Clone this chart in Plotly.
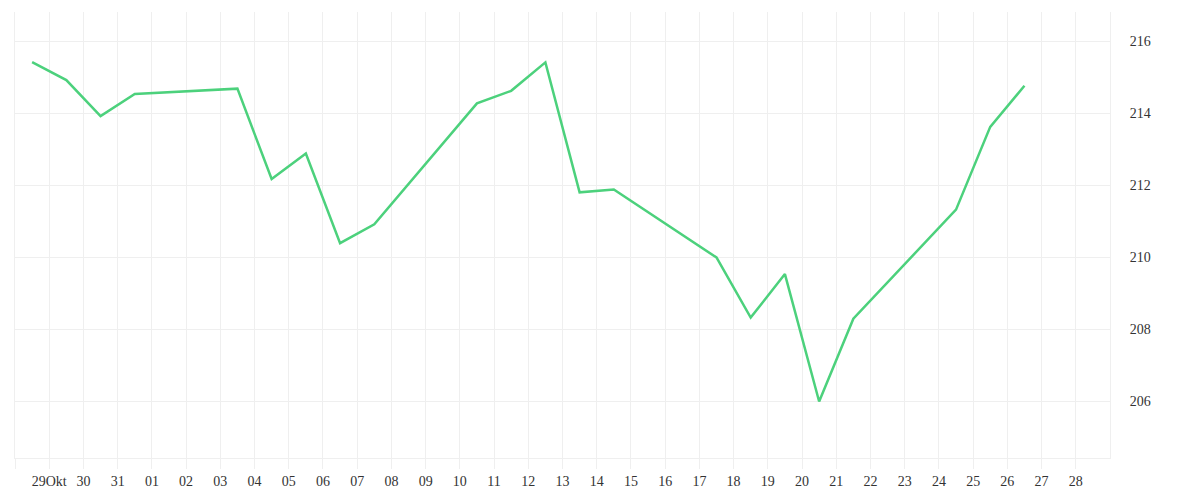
import pandas as pd
import plotly.graph_objects as go

# trading days (weekends missing) and closing values
dates = [
    "2025-10-28", "2025-10-29", "2025-10-30", "2025-10-31",
    "2025-11-03", "2025-11-04", "2025-11-05", "2025-11-06", "2025-11-07",
    "2025-11-10", "2025-11-11", "2025-11-12", "2025-11-13", "2025-11-14",
    "2025-11-17", "2025-11-18", "2025-11-19", "2025-11-20", "2025-11-21",
    "2025-11-24", "2025-11-25", "2025-11-26",
]
values = [
    215.43, 214.93, 213.93, 214.54,
    214.69, 212.18, 212.89, 210.40, 210.92,
    214.28, 214.63, 215.42, 211.81, 211.89,
    210.00, 208.33, 209.54, 206.00, 208.30,
    211.33, 213.63, 214.77,
]

tick_dates = pd.date_range("2025-10-28", "2025-11-28", freq="D")
tick_labels = [""] + ["29Okt", "30", "31"] + ["%02d" % d for d in range(1, 29)]

grid = "#efefef"
font = dict(family="Liberation Serif, DejaVu Serif, serif", size=14, color="#333333")

x = pd.to_datetime(dates) + pd.Timedelta(hours=12)

fig = go.Figure()
fig.add_trace(go.Scatter(
    x=x, y=values, mode="lines",
    line=dict(color="#4cd17c", width=2.5),
    hoverinfo="x+y",
))

# page body has an 8px margin, so the margins are shifted to compensate
fig.update_layout(
    width=1200, height=500,
    margin=dict(l=7, r=98, t=4, b=50),
    paper_bgcolor="white", plot_bgcolor="white",
    showlegend=False,
    font=font,
)
fig.update_xaxes(
    type="date",
    range=["2025-10-28", "2025-11-29"],
    tickmode="array", tickvals=tick_dates, ticktext=tick_labels,
    showgrid=True, gridcolor=grid, gridwidth=1,
    ticks="outside", ticklen=10, tickcolor=grid,
    showline=True, linecolor=grid, linewidth=1,
    zeroline=False, tickfont=font,
)
fig.update_yaxes(
    side="right",
    range=[204.43, 216.82],
    tick0=206, dtick=2,
    showgrid=True, gridcolor=grid, gridwidth=1,
    ticks="", ticklabelstandoff=16,
    showline=True, linecolor=grid, linewidth=1, mirror=True,
    zeroline=False, tickfont=font,
)

fig.write_html("out.html")
